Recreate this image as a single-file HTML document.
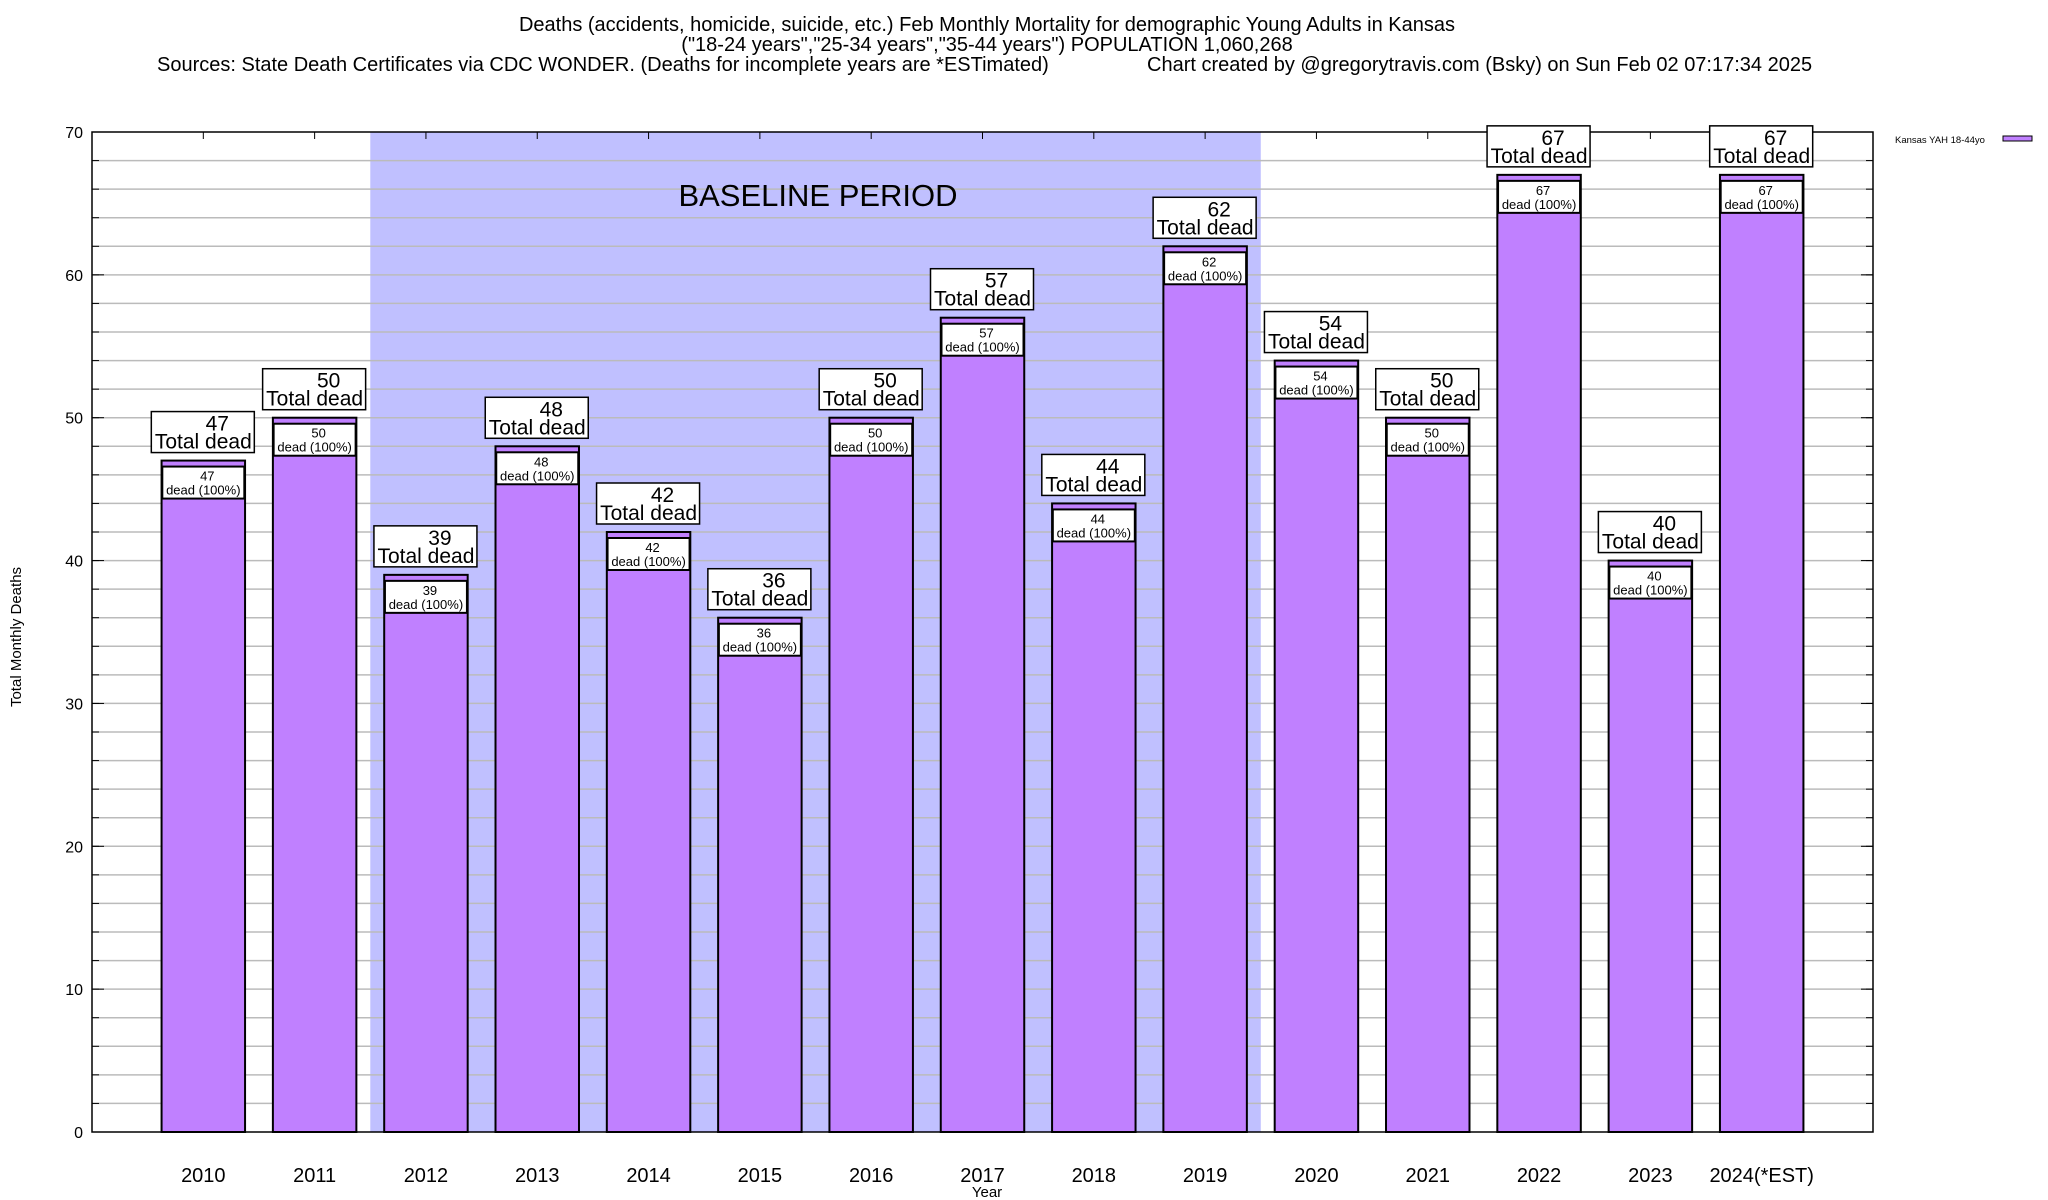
<!DOCTYPE html>
<html><head><meta charset="utf-8"><style>
html,body{margin:0;padding:0;background:#fff;}
svg{display:block;font-family:"Liberation Sans",Arial,sans-serif;}
</style></head><body>
<svg id="chart" width="2048" height="1200" viewBox="0 0 2048 1200" xmlns="http://www.w3.org/2000/svg">
<g font-size="20" fill="#000">
<text x="987" y="31" text-anchor="middle">Deaths (accidents, homicide, suicide, etc.) Feb Monthly Mortality for demographic Young Adults in Kansas</text>
<text x="987" y="51" text-anchor="middle">("18-24 years","25-34 years","35-44 years") POPULATION 1,060,268</text>
<text x="157" y="71">Sources: State Death Certificates via CDC WONDER. (Deaths for incomplete years are *ESTimated)</text>
<text x="1147" y="71">Chart created by @gregorytravis.com (Bsky) on Sun Feb 02 07:17:34 2025</text>
</g>
<g id="plot"></g>
</svg>
<script>
const categories = ["2010","2011","2012","2013","2014","2015","2016","2017","2018","2019","2020","2021","2022","2023","2024(*EST)"];
const deaths = [47,50,39,48,42,36,50,57,44,62,54,50,67,40,67];
const yTicks = [0,10,20,30,40,50,60,70];
const baselineStart = 1.5, baselineEnd = 9.5;

const NS = "http://www.w3.org/2000/svg";
const L = 92, R = 1873, T = 132, B = 1132;
const xMin = -1, xMax = 15, yMax = 70;
const xs = v => L + (v - xMin) / (xMax - xMin) * (R - L);
const ys = v => B - v / yMax * (B - T);
const g = document.getElementById('plot');
function mk(tag, attrs, parent) {
  const e = document.createElementNS(NS, tag);
  for (const k in attrs) e.setAttribute(k, attrs[k]);
  (parent || g).appendChild(e);
  return e;
}

const shade = mk('rect', {x: xs(baselineStart), y: T, width: xs(baselineEnd) - xs(baselineStart), height: B - T, fill: '#c0c0ff'});



for (let v = 2; v < yMax; v += 2) {
  const gl = mk('line', {x1: L, x2: R, y1: ys(v), y2: ys(v), stroke: '#bbbbbb', 'stroke-width': 1.5});
  
  
  mk('line', {x1: L, x2: L + 7, y1: ys(v), y2: ys(v), stroke: '#000', 'stroke-width': 1});
  mk('line', {x1: R - 7, x2: R, y1: ys(v), y2: ys(v), stroke: '#000', 'stroke-width': 1});
}

const bl = mk('text', {x: 818, y: 206, 'font-size': 31, 'text-anchor': 'middle'});
bl.textContent = 'BASELINE PERIOD';



yTicks.forEach(v => {
  const t = mk('text', {x: 83, y: ys(v) + 6, 'font-size': 16, 'text-anchor': 'end'});
  t.textContent = v;
  
  
  mk('line', {x1: L, x2: L + 12, y1: ys(v), y2: ys(v), stroke: '#000', 'stroke-width': 1});
  mk('line', {x1: R - 12, x2: R, y1: ys(v), y2: ys(v), stroke: '#000', 'stroke-width': 1});
});

const bw = 0.75;
categories.forEach((c, i) => {
  const cx = xs(i);
  const w = xs(bw) - xs(0);
  const top = ys(deaths[i]);
  const bar = mk('rect', {x: cx - w / 2, y: top, width: w, height: B - top, fill: '#c080ff', stroke: '#000', 'stroke-width': 2});
  
  
  const xl = mk('text', {x: cx, y: 1182, 'font-size': 20, 'text-anchor': 'middle'});
  xl.textContent = c;
  
  
  mk('line', {x1: cx, x2: cx, y1: T, y2: T + 7, stroke: '#000', 'stroke-width': 1});
});

const fr = mk('rect', {x: L, y: T, width: R - L, height: B - T, fill: 'none', stroke: '#000', 'stroke-width': 1.5});



categories.forEach((c, i) => {
  const cx = xs(i);
  const top = ys(deaths[i]);
  const ib = mk('rect', {x: cx - 41, y: top + 6, width: 82, height: 32, fill: '#fff', stroke: '#000', 'stroke-width': 2});
  
  
  const t1 = mk('text', {x: cx + 4, y: top + 20, 'font-size': 13, 'text-anchor': 'middle'});
  t1.textContent = deaths[i];
  const t2 = mk('text', {x: cx, y: top + 34, 'font-size': 13, 'text-anchor': 'middle'});
  t2.textContent = 'dead (100%)';
  const ob = mk('rect', {x: cx - 52, y: top - 49, width: 103, height: 41, fill: '#fff', stroke: '#000', 'stroke-width': 1.5});
  
  
  const t3 = mk('text', {x: cx + 14, y: top - 30, 'font-size': 21, 'text-anchor': 'middle'});
  t3.textContent = deaths[i];
  const t4 = mk('text', {x: cx, y: top - 12, 'font-size': 21, 'text-anchor': 'middle'});
  t4.textContent = 'Total dead';
});

const yt = mk('text', {x: 0, y: 0, 'font-size': 15, 'text-anchor': 'middle', transform: 'translate(21,637) rotate(-90)'});
yt.textContent = 'Total Monthly Deaths';


const xt = mk('text', {x: 987, y: 1197, 'font-size': 15, 'text-anchor': 'middle'});
xt.textContent = 'Year';



const lg = mk('text', {x: 1895, y: 143, 'font-size': 9.5});
lg.textContent = 'Kansas YAH 18-44yo';


const ls = mk('rect', {x: 2003, y: 136, width: 29, height: 5, fill: '#c080ff', stroke: '#000', 'stroke-width': 1});


</script>
</body></html>
